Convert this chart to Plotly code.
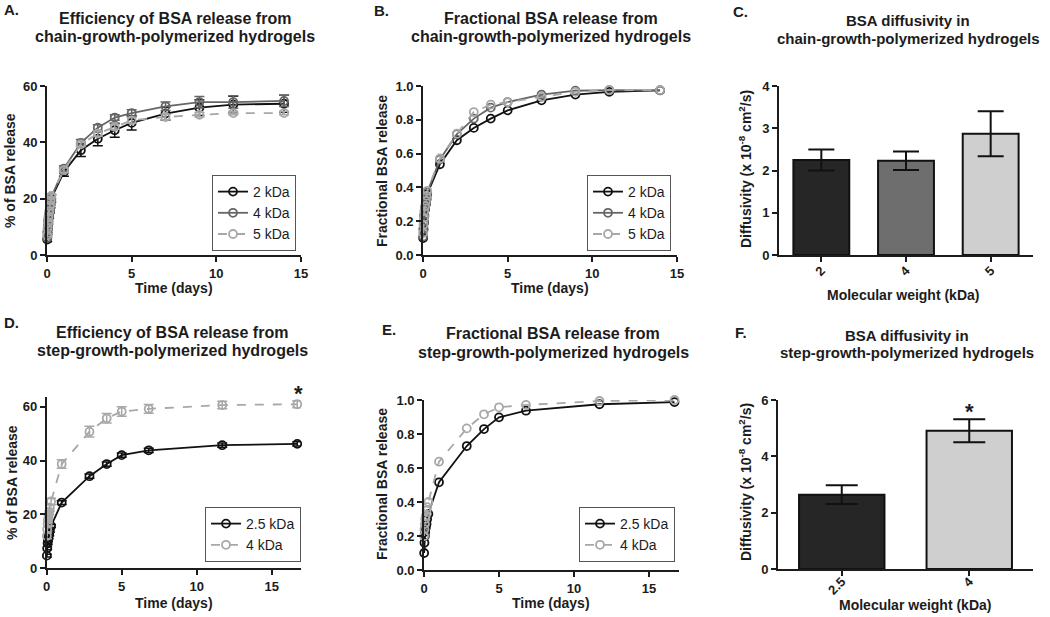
import plotly.graph_objects as go

# ---------------- data ----------------
chain_time = [0.01, 0.03, 0.06, 0.08, 0.125, 0.17, 0.21, 0.25, 1, 2, 3, 4, 5, 7, 9, 11, 14]
eff_chain_2 = [5.5, 8.0, 10.0, 12.0, 14.0, 16.0, 18.0, 20.0, 29.5, 37.2, 41.3, 44.3, 46.9, 50.2, 52.3, 53.4, 53.7]
err_chain_2 = [0.8, 0.8, 0.9, 1.0, 1.0, 1.1, 1.2, 1.3, 1.5, 2.2, 2.5, 2.5, 2.5, 2.3, 2.8, 3.0, 3.0]
eff_chain_4 = [6.0, 8.5, 10.5, 12.5, 14.5, 16.5, 18.5, 20.5, 30.7, 39.8, 45.2, 48.8, 50.4, 52.8, 54.3, 54.3, 54.7]
err_chain_4 = [0.6, 0.6, 0.7, 0.7, 0.8, 0.8, 0.9, 1.0, 1.0, 1.2, 1.0, 1.0, 1.2, 1.5, 2.0, 2.2, 2.0]
eff_chain_5 = [7.0, 9.5, 11.5, 13.5, 15.5, 17.5, 19.5, 21.0, 30.1, 39.3, 43.1, 45.5, 47.8, 49.0, 49.8, 50.4, 50.4]
err_chain_5 = [0.5, 0.5, 0.5, 0.6, 0.6, 0.6, 0.7, 0.7, 0.8, 0.8, 0.9, 0.9, 1.0, 1.0, 0.8, 0.6, 0.6]

frac_chain_2 = [0.10, 0.15, 0.19, 0.23, 0.27, 0.30, 0.33, 0.36, 0.537, 0.679, 0.752, 0.807, 0.856, 0.915, 0.949, 0.965, 0.974]
frac_chain_4 = [0.11, 0.16, 0.20, 0.24, 0.28, 0.31, 0.34, 0.37, 0.565, 0.715, 0.807, 0.872, 0.905, 0.949, 0.972, 0.976, 0.974]
frac_chain_5 = [0.13, 0.18, 0.22, 0.26, 0.29, 0.32, 0.35, 0.38, 0.571, 0.718, 0.846, 0.890, 0.905, 0.935, 0.965, 0.976, 0.976]

mw_chain = ["2", "4", "5"]
diff_chain = [2.25, 2.23, 2.87]
diff_chain_err = [0.25, 0.22, 0.53]

step_time = [0.01, 0.03, 0.06, 0.08, 0.125, 0.17, 0.21, 0.29, 1, 2.85, 4, 5, 6.8, 11.7, 16.7]
eff_step_25 = [4.7, 7.4, 9.3, 10.5, 11.5, 12.7, 14.0, 15.7, 24.4, 34.2, 38.7, 42.0, 43.8, 45.7, 46.2]
err_step_25 = [0.5, 0.5, 0.5, 0.5, 0.6, 0.6, 0.6, 0.6, 0.7, 0.8, 0.8, 0.8, 0.8, 0.8, 0.8]
eff_step_4 = [12.0, 14.5, 16.5, 18.0, 19.5, 21.0, 22.5, 24.8, 38.7, 50.7, 55.7, 58.2, 59.2, 60.6, 60.9]
err_step_4 = [1.0, 1.0, 1.0, 1.0, 1.0, 1.0, 1.2, 1.2, 1.6, 2.0, 1.8, 1.8, 1.6, 1.4, 1.3]

frac_step_25 = [0.10, 0.16, 0.20, 0.225, 0.25, 0.27, 0.30, 0.33, 0.516, 0.729, 0.829, 0.898, 0.937, 0.975, 0.988]
frac_step_4 = [0.20, 0.24, 0.27, 0.30, 0.32, 0.35, 0.37, 0.40, 0.637, 0.833, 0.916, 0.957, 0.971, 0.994, 1.0]

mw_step = ["2.5", "4"]
diff_step = [2.64, 4.91]
diff_step_err = [0.33, 0.41]

# ---------------- style ----------------
FONT = "Liberation Sans, Arial, sans-serif"
INK = "#1c1c1c"
BLACK = "#111111"
MID = "#666666"
LIGHT = "#a8a8a8"

W, H = 1050, 617


def px_x(p):
    return p / W


def px_y(p):
    return 1 - p / H


fig = go.Figure()


def line_trace(x, y, name, color, ax, legend, err=None, dash="solid", width=1.8):
    fig.add_trace(go.Scatter(
        x=x, y=y, name=name, mode="lines+markers",
        line=dict(color=color, width=width, dash=dash),
        marker=dict(symbol="circle-open", size=8, color=color, line=dict(width=1.8, color=color)),
        error_y=(dict(type="data", array=err, visible=True, color=color, thickness=1.5, width=5)
                 if err is not None else None),
        xaxis="x" + ax, yaxis="y" + ax, legend=legend, cliponaxis=False,
    ))


# Panel A
line_trace(chain_time, eff_chain_2, "2 kDa", BLACK, "", "legend", err_chain_2)
line_trace(chain_time, eff_chain_4, "4 kDa", MID, "", "legend", err_chain_4)
line_trace(chain_time, eff_chain_5, "5 kDa", LIGHT, "", "legend", err_chain_5, dash="dash")
# Panel B
line_trace(chain_time, frac_chain_2, "2 kDa", BLACK, "2", "legend2")
line_trace(chain_time, frac_chain_4, "4 kDa", MID, "2", "legend2")
line_trace(chain_time, frac_chain_5, "5 kDa", LIGHT, "2", "legend2", dash="dash")
# Panel C
fig.add_trace(go.Bar(
    x=mw_chain, y=diff_chain, width=0.66, showlegend=False,
    marker=dict(color=["#262626", "#6e6e6e", "#cfcfcf"], line=dict(color=BLACK, width=2)),
    error_y=dict(type="data", array=diff_chain_err, visible=True, color=BLACK, thickness=2, width=13),
    xaxis="x3", yaxis="y3",
))
# Panel D
line_trace(step_time, eff_step_25, "2.5 kDa", BLACK, "4", "legend4", err_step_25)
line_trace(step_time, eff_step_4, "4 kDa", LIGHT, "4", "legend4", err_step_4, dash="dash")
# Panel E
line_trace(step_time, frac_step_25, "2.5 kDa", BLACK, "5", "legend5")
line_trace(step_time, frac_step_4, "4 kDa", LIGHT, "5", "legend5", dash="dash")
# Panel F
fig.add_trace(go.Bar(
    x=mw_step, y=diff_step, width=0.67, showlegend=False,
    marker=dict(color=["#262626", "#cfcfcf"], line=dict(color=BLACK, width=2)),
    error_y=dict(type="data", array=diff_step_err, visible=True, color=BLACK, thickness=2, width=16),
    xaxis="x6", yaxis="y6",
))

tickfont = dict(family=FONT, size=13, color=INK, weight="bold")


def axis(domain, rng, anchor, **kw):
    d = dict(domain=domain, range=rng, anchor=anchor, automargin=False,
             showline=True, linewidth=1.8, linecolor=INK,
             ticks="outside", ticklen=5, tickwidth=1.6, tickcolor=INK,
             showgrid=False, zeroline=False, tickfont=tickfont)
    d.update(kw)
    return d


top_y = [px_y(255), px_y(86)]
frac_ticks = dict(tickvals=[0, 0.2, 0.4, 0.6, 0.8, 1.0], tickformat=".1f")
time_ticks = dict(tickvals=[0, 5, 10, 15])

layout = dict(
    width=W, height=H, margin=dict(l=0, r=0, t=0, b=0, autoexpand=False),
    paper_bgcolor="white", plot_bgcolor="white",
    font=dict(family=FONT, color=INK),
    xaxis=axis([px_x(47), px_x(301)], [0, 15], "y", **time_ticks),
    yaxis=axis(top_y, [0, 60], "x", tickvals=[0, 20, 40, 60]),
    xaxis2=axis([px_x(423), px_x(677)], [0, 15], "y2", **time_ticks),
    yaxis2=axis(top_y, [0, 1.0], "x2", **frac_ticks),
    xaxis3=axis([px_x(779), px_x(1033)], [-0.5, 2.5], "y3", type="category", tickangle=-45,
                ticklabelstandoff=-4),
    yaxis3=axis(top_y, [0, 4], "x3", tickvals=[0, 1, 2, 3, 4]),
    xaxis4=axis([px_x(46.7), px_x(300.7)], [0, 16.93], "y4", **time_ticks),
    yaxis4=axis([px_y(568.3), px_y(396.7)], [0, 63.7], "x4", tickvals=[0, 20, 40, 60]),
    xaxis5=axis([px_x(424), px_x(679)], [0, 17.0], "y5", **time_ticks),
    yaxis5=axis([px_y(570), px_y(400)], [0, 1.0], "x5", **frac_ticks),
    xaxis6=axis([px_x(778), px_x(1033)], [-0.5, 1.5], "y6", type="category", tickangle=-45,
                ticklabelstandoff=-7),
    yaxis6=axis([px_y(569), px_y(400)], [0, 6], "x6", tickvals=[0, 2, 4, 6]),
)


def legend(xr, yb):
    return dict(x=px_x(xr), y=px_y(yb), xanchor="right", yanchor="bottom",
                bordercolor="#555555", borderwidth=1, bgcolor="white",
                font=dict(family=FONT, size=14, color=INK), itemwidth=30,
                tracegroupgap=0)


layout["legend"] = legend(296, 251)
layout["legend2"] = legend(671, 251)
layout["legend4"] = legend(301, 562)
layout["legend5"] = legend(675, 562)

fig.update_layout(**layout)


def text(t, cx, cy, size, angle=0, xanchor="center"):
    fig.add_annotation(text=t, x=px_x(cx), y=px_y(cy), xref="paper", yref="paper",
                       xanchor=xanchor, yanchor="middle", showarrow=False, textangle=angle,
                       font=dict(family=FONT, size=size, color=INK, weight="bold"))


# panel titles, one annotation per line
titles = [
    ("Efficiency of BSA release from", "chain-growth-polymerized hydrogels", 175, 18, 36, 16),
    ("Fractional BSA release from", "chain-growth-polymerized hydrogels", 551, 18, 36, 16),
    ("BSA diffusivity in", "chain-growth-polymerized hydrogels", 908, 20, 38, 15),
    ("Efficiency of BSA release from", "step-growth-polymerized hydrogels", 172, 332, 350, 16),
    ("Fractional BSA release from", "step-growth-polymerized hydrogels", 553, 333, 352, 16),
    ("BSA diffusivity in", "step-growth-polymerized hydrogels", 907, 335, 352, 15),
]
for l1, l2, cx, y1, y2, sz in titles:
    text(l1, cx, y1, sz)
    text(l2, cx, y2, sz)

# axis titles
ylab_diff = "Diffusivity (x 10<sup>-8</sup> cm<sup>2</sup>/s)"
axis_titles = [
    ("% of BSA release", 10, 171, -90), ("Time (days)", 174, 288, 0),
    ("Fractional BSA release", 382, 171, -90), ("Time (days)", 550, 288, 0),
    (ylab_diff, 745, 169, -90), ("Molecular weight (kDa)", 903, 295, 0),
    ("% of BSA release", 12, 483, -90), ("Time (days)", 174, 603, 0),
    ("Fractional BSA release", 382, 484, -90), ("Time (days)", 551, 603, 0),
    (ylab_diff, 745, 482, -90), ("Molecular weight (kDa)", 915, 605, 0),
]
for t, cx, cy, ang in axis_titles:
    text(t, cx, cy, 14, ang)

letters = [("A.", 2, 10), ("B.", 372, 11), ("C.", 731, 12), ("D.", 2, 322), ("E.", 380, 329), ("F.", 733, 332)]
for t, lx, ly in letters:
    text(t, lx, ly, 15, xanchor="left")

# significance asterisks (panel D, last time point; panel F, 4 kDa bar)
text("*", 298, 393, 22)
text("*", 969, 411, 22)

# remove the default page margin so the figure sits at the window's top-left corner
fig.write_html("out.html", config={"displayModeBar": False},
               post_script="document.body.style.margin='0';")
